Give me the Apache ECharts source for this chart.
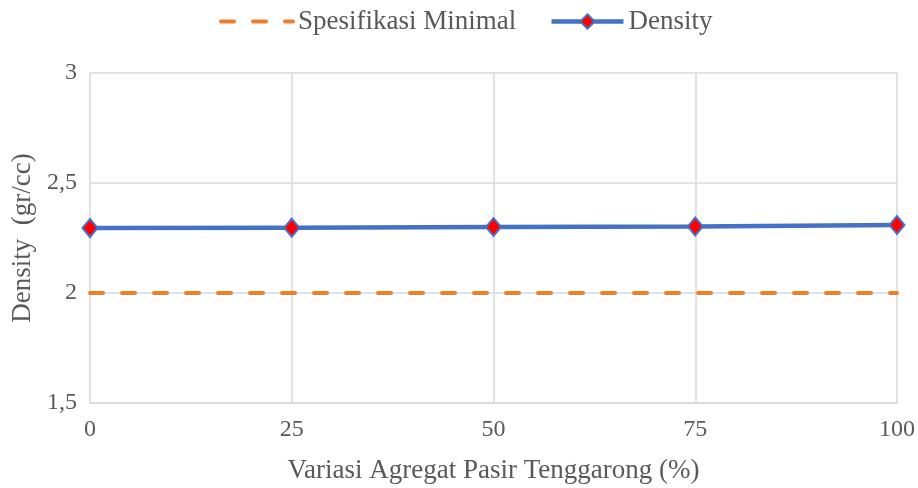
<!DOCTYPE html>
<html>
<head>
<meta charset="utf-8">
<script src="https://cdn.jsdelivr.net/npm/echarts@6/dist/echarts.min.js"></script>
<style>
  html, body { margin: 0; padding: 0; background: #fff; }
  #chart { width: 918px; height: 488px; }
</style>
</head>
<body>
<div id="chart"></div>
<script>
// Variasi agregat pasir Tenggarong (%) and measured density (gr/cc)
const variasi = [0, 25, 50, 75, 100];
const density = [2.295, 2.297, 2.300, 2.302, 2.309];
const spesifikasiMinimal = [2, 2, 2, 2, 2];
const yTicks = [1.5, 2, 2.5, 3];

const FONT = '"Liberation Serif", "Times New Roman", serif';
const TEXT = '#595959';
const GRID = '#d9d9d9';

const chart = echarts.init(document.getElementById('chart'));
chart.setOption({
  animation: false,
  textStyle: { fontFamily: FONT, color: TEXT },
  legend: {
    top: 3,
    left: 214,
    itemGap: 33,
    itemWidth: 72,
    itemHeight: 18,
    lineStyle: { width: 'inherit' },
    textStyle: { fontFamily: FONT, fontSize: 27, color: TEXT },
    data: [
      { name: 'Spesifikasi Minimal', itemStyle: { opacity: 0 } },
      { name: 'Density' }
    ]
  },
  grid: { left: 90, right: 21, top: 73, bottom: 85, outerBoundsMode: 'none', containLabel: false },
  xAxis: {
    type: 'value',
    min: 0, max: 100, interval: 25,
    name: 'Variasi Agregat Pasir Tenggarong (%)',
    nameLocation: 'middle',
    nameGap: 54,
    nameTextStyle: { fontFamily: FONT, fontSize: 27, color: TEXT },
    axisLine: { show: true, lineStyle: { color: GRID, width: 1.5 } },
    axisTick: { show: false },
    axisLabel: { fontFamily: FONT, fontSize: 24, color: TEXT, margin: 15 },
    splitLine: { show: true, lineStyle: { color: GRID, width: 1.5 } }
  },
  yAxis: {
    type: 'value',
    min: yTicks[0], max: yTicks[yTicks.length - 1], interval: 0.5,
    name: 'Density  (gr/cc)',
    nameLocation: 'middle',
    nameGap: 37,
    nameTextStyle: { fontFamily: FONT, fontSize: 27, color: TEXT },
    axisLine: { show: false },
    axisTick: { show: false },
    axisLabel: {
      fontFamily: FONT, fontSize: 24, color: TEXT, margin: 13,
      formatter: v => String(v).replace('.', ',')
    },
    splitLine: { show: true, lineStyle: { color: GRID, width: 1.5 } }
  },
  series: [
    {
      name: 'Spesifikasi Minimal',
      type: 'line',
      data: variasi.map((x, i) => [x, spesifikasiMinimal[i]]),
      symbol: 'none',
      itemStyle: { color: '#ed7d31' },
      lineStyle: { color: '#ed7d31', width: 4, type: [13, 19], cap: 'round' },
      z: 2
    },
    {
      name: 'Density',
      type: 'line',
      data: variasi.map((x, i) => [x, density[i]]),
      symbol: 'diamond',
      symbolSize: [15, 18],
      itemStyle: { color: '#ff0000', borderColor: '#4472c4', borderWidth: 2 },
      lineStyle: { color: '#4472c4', width: 4.5 },
      z: 3
    }
  ]
});
</script>
</body>
</html>
